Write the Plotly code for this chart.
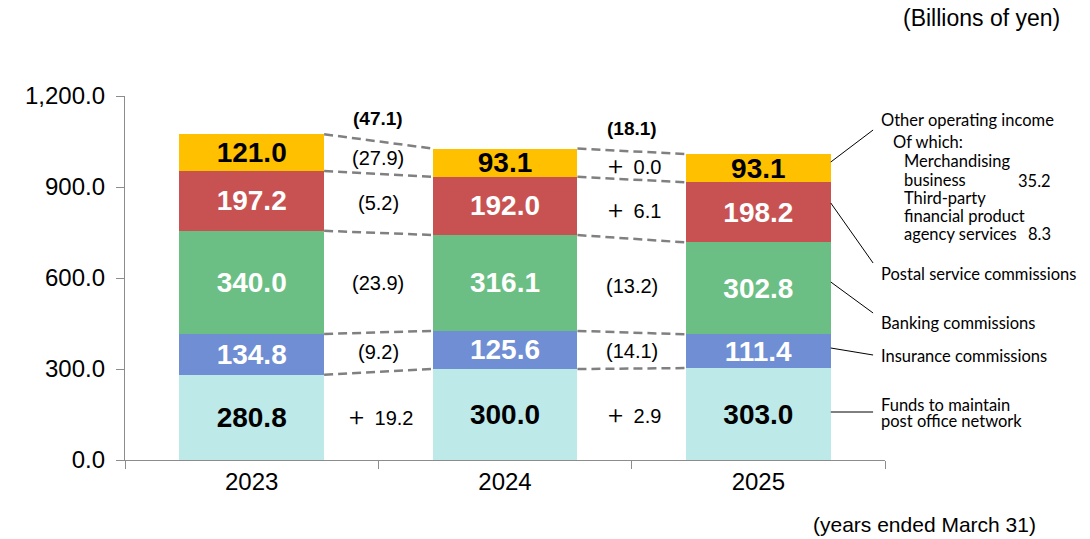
import plotly.graph_objects as go

years = ["2023", "2024", "2025"]
funds = [280.8, 300.0, 303.0]
insurance = [134.8, 125.6, 111.4]
banking = [340.0, 316.1, 302.8]
postal = [197.2, 192.0, 198.2]
other = [121.0, 93.1, 93.1]
totals = [1074.0, 1026.9, 1008.7]

# year-on-year change labels (as printed), per gap: funds, insurance, banking, postal, other, total
changes_1 = ["＋ 19.2", "(9.2)", "(23.9)", "(5.2)", "(27.9)", "(47.1)"]
changes_2 = ["＋ 2.9", "(14.1)", "(13.2)", "＋ 6.1", "＋ 0.0", "(18.1)"]

series = [
    ("Funds to maintain post office network", funds, "#BDE9E9", "black"),
    ("Insurance commissions", insurance, "#708ED4", "white"),
    ("Banking commissions", banking, "#6BBF84", "white"),
    ("Postal service commissions", postal, "#C85252", "white"),
    ("Other operating income", other, "#FFC000", "black"),
]

FONT = "Liberation Sans, Arial, sans-serif"
LFONT = "Lato, Open Sans, sans-serif"
BARGAP = 0.428
HW = (1 - BARGAP) / 2

fig = go.Figure()
for name, vals, col, tcol in series:
    fig.add_trace(go.Bar(
        x=years, y=vals, name=name, marker=dict(color=col, line=dict(width=0)),
        text=[f"{v:.1f}" for v in vals], textposition="inside",
        insidetextanchor="middle", constraintext="none", textangle=0,
        textfont=dict(family=FONT, size=28, color=tcol, weight="bold"),
        hoverinfo="skip", showlegend=False,
    ))

# cumulative boundaries
cum = []
for i in range(3):
    s = 0
    row = []
    for _, vals, _, _ in series:
        s += vals[i]
        row.append(s)
    cum.append(row)


def fmt_change(lbl):
    if lbl.startswith("＋"):
        return "<span style='font-size:25px'>＋</span>" + lbl[1:]
    return lbl


shapes = []
annotations = []
for g in range(2):
    for k in range(5):
        shapes.append(dict(type="line", xref="x", yref="y",
                           x0=g + HW, y0=cum[g][k], x1=g + 1 - HW, y1=cum[g + 1][k],
                           line=dict(color="#808080", width=2.5, dash="9px,5px")))
    labels = changes_1 if g == 0 else changes_2
    for k in range(5):
        m0 = cum[g][k] - series[k][1][g] / 2
        m1 = cum[g + 1][k] - series[k][1][g + 1] / 2
        annotations.append(dict(x=g + 0.5, y=(m0 + m1) / 2, xref="x", yref="y",
                                text=fmt_change(labels[k]), showarrow=False,
                                font=dict(family=FONT, size=20, color="black")))
    annotations.append(dict(x=g + 0.5, y=(totals[g] + totals[g + 1]) / 2, xref="x", yref="y",
                            yshift=23, text=labels[5], showarrow=False,
                            font=dict(family=FONT, size=19, color="black", weight="bold")))

for i, t in enumerate(totals):
    annotations.append(dict(x=years[i], y=t, xref="x", yref="y", yshift=21,
                            text=f"{t:,.1f}", showarrow=False,
                            font=dict(family=FONT, size=27, color="black", weight="bold")))


def py2y(py):
    return (460 - py) * 1200 / 364


def px2p(px):
    return (px - 125) / 760


# leader lines from the 2025 bar to the labels (pixel positions)
leaders = [(162, 130), (203, 263), (282, 313), (348, 355), (412, 412)]
for a, b in leaders:
    shapes.append(dict(type="line", xref="x", yref="y", x0=2 + HW, y0=py2y(a),
                       x1=2.453, y1=py2y(b), line=dict(color="black", width=1)))

legend_lines = [
    ("Other operating income", 879, 120),
    ("Of which:", 891, 142),
    ("Merchandising", 902, 161),
    ("business", 902, 180),
    ("Third-party", 902, 198),
    ("financial product", 902, 216),
    ("agency services", 902, 234),
    ("Postal service commissions", 879, 274),
    ("Banking commissions", 879, 323),
    ("Insurance commissions", 879, 356),
    ("Funds to maintain", 879, 405),
    ("post office network", 879, 421),
]
for txt, px, py in legend_lines:
    annotations.append(dict(x=px2p(px), y=(460 - py) / 364, xref="paper", yref="paper",
                            xanchor="left", yanchor="middle", text=txt, showarrow=False,
                            font=dict(family=LFONT, size=16.5, color="black")))
for txt, py in [("35.2", 181), ("8.3", 234)]:
    annotations.append(dict(x=px2p(1053), y=(460 - py) / 364, xref="paper", yref="paper",
                            xanchor="right", yanchor="middle", text=txt, showarrow=False,
                            font=dict(family=LFONT, size=16.5, color="black")))

annotations.append(dict(x=px2p(1062), y=(460 - 18) / 364, xref="paper", yref="paper",
                        xanchor="right", yanchor="middle", text="(Billions of yen)",
                        showarrow=False, font=dict(family=FONT, size=23, color="black")))
annotations.append(dict(x=px2p(1038), y=(460 - 524) / 364, xref="paper", yref="paper",
                        xanchor="right", yanchor="middle", text="(years ended March 31)",
                        showarrow=False, font=dict(family=FONT, size=21, color="black")))

fig.update_layout(
    width=1090, height=539, barmode="stack", bargap=BARGAP,
    margin=dict(l=125, r=205, t=96, b=79),
    paper_bgcolor="white", plot_bgcolor="white",
    font=dict(family=FONT, color="black"),
    shapes=shapes, annotations=annotations, showlegend=False,
    xaxis=dict(type="category", range=[-0.5, 2.5], showline=True, linecolor="#8c8c8c",
               linewidth=1.3, ticks="outside", tickson="boundaries", ticklen=8,
               tickcolor="#8c8c8c", showgrid=False, tickfont=dict(size=24, family=FONT)),
    yaxis=dict(range=[0, 1200], tickvals=[0, 300, 600, 900, 1200], tickformat=",.1f",
               showline=True, linecolor="#8c8c8c", linewidth=1.3, ticks="outside", ticklen=8,
               tickcolor="#8c8c8c", showgrid=False, zeroline=False,
               tickfont=dict(size=24, family=FONT), ticklabelstandoff=6),
)

fig.write_html("out.html", config={"displayModeBar": False},
               post_script="document.body.style.margin='0';document.body.style.overflow='hidden';")
